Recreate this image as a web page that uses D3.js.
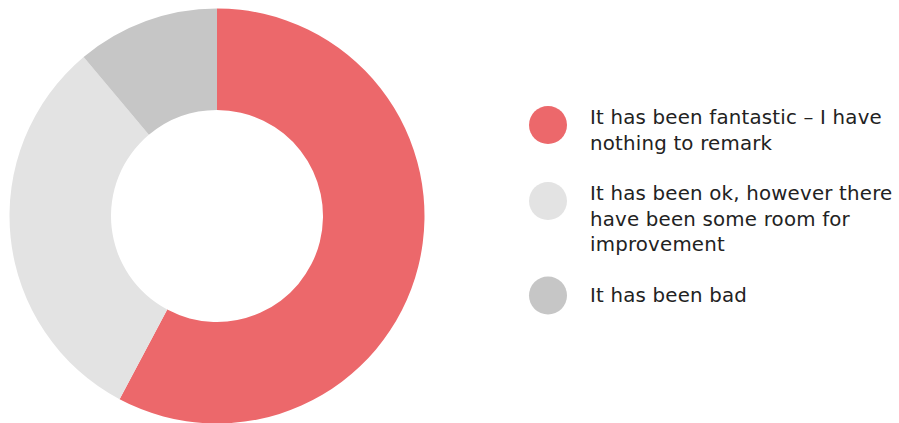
<!DOCTYPE html>
<html>
<head>
<meta charset="utf-8">
<script src="https://cdn.jsdelivr.net/npm/d3@7"></script>
<style>
  body { margin: 0; background: #fff; }
  svg { display: block; }
  text { font-family: "DejaVu Sans", sans-serif; fill: #222; }
</style>
</head>
<body>
<div id="chart"></div>
<script>
// answers and how many people gave them
var labels = [
    ["It has been fantastic \u2013 I have", "nothing to remark"],
    ["It has been ok, however there", "have been some room for", "improvement"],
    ["It has been bad"]
];
var counts = [26, 14, 5];
var colors = ["#ec686b", "#e3e3e3", "#c6c6c6"];

const width = 899;
const height = 423;
const cx = 217, cy = 216;
const outerR = 207.5, innerR = 106;

var svg = d3.select("#chart").append("svg")
    .attr("width", width)
    .attr("height", height);

var pie = d3.pie()
    .sort(null)
    .value(d => d);

var arc = d3.arc()
    .innerRadius(innerR)
    .outerRadius(outerR);

var g = svg.append("g")
    .attr("transform", `translate(${cx}, ${cy})`);

g.selectAll("path")
    .data(pie(counts))
    .enter()
    .append("path")
    .attr("d", arc)
    .attr("fill", (d, i) => colors[i]);

// legend
var lineH = 25.5, itemGap = 25;
var legend = svg.append("g")
    .attr("transform", "translate(548, 124)");

var y = 0;
labels.forEach(function(lines, i) {
    var item = legend.append("g")
        .attr("transform", `translate(0, ${y})`);

    item.append("circle")
        .attr("cx", 0)
        .attr("cy", lines.length > 1 ? 1 : -6)
        .attr("r", 19)
        .style("fill", colors[i]);

    item.append("text")
        .attr("x", 42)
        .attr("font-size", 19.8)
        .attr("letter-spacing", 0.2)
        .selectAll("tspan")
        .data(lines)
        .enter()
        .append("tspan")
        .attr("x", 42)
        .attr("y", (d, j) => j * lineH)
        .text(d => d);

    y += lines.length * lineH + itemGap;
});
</script>
</body>
</html>
